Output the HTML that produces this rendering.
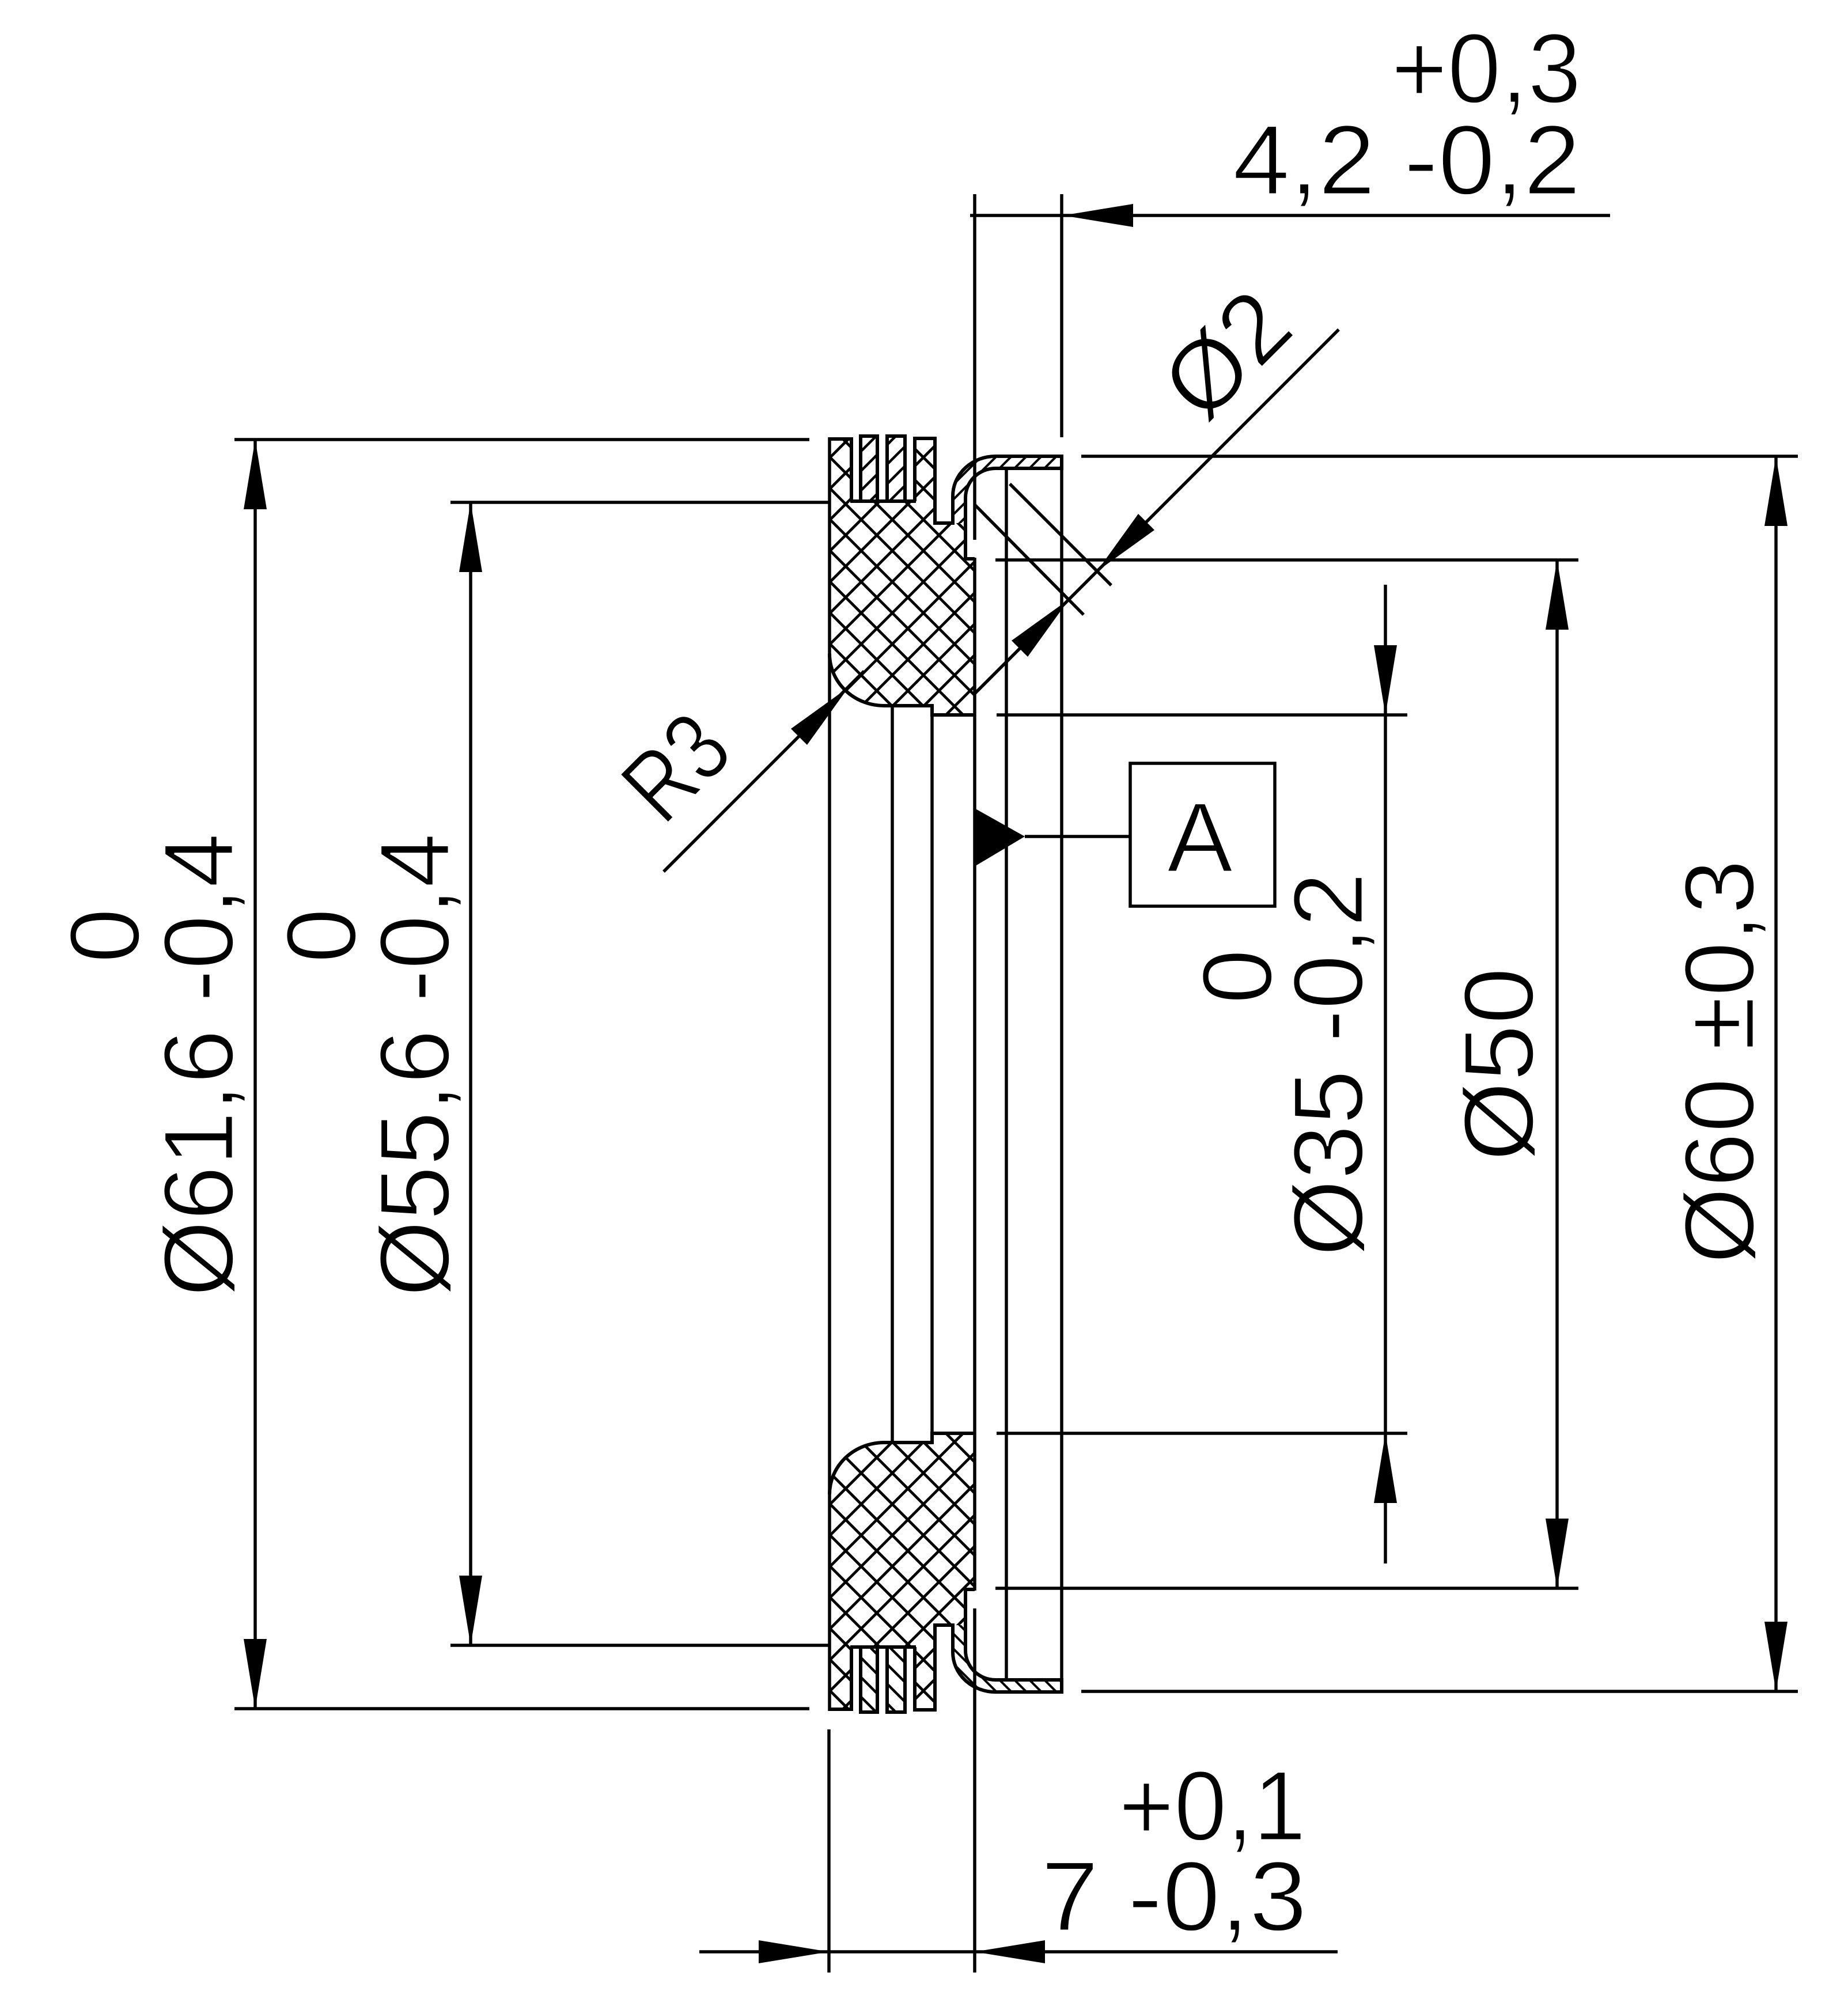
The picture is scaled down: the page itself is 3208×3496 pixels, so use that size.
<!DOCTYPE html>
<html>
<head>
<meta charset="utf-8">
<style>
html,body{margin:0;padding:0;background:#fff;}
svg{display:block;}
</style>
</head>
<body>
<svg xmlns="http://www.w3.org/2000/svg" width="3208" height="3496" viewBox="0 0 3208 3496">
<defs>
  <pattern id="xh" patternUnits="userSpaceOnUse" x="10" y="11" width="54" height="54">
    <path d="M-10,-10 L64,64 M-10,44 L64,118 M-10,-64 L64,10 M-10,64 L64,-10 M-10,10 L10,-10 M44,64 L64,44" stroke="#000" stroke-width="4.8" fill="none"/>
  </pattern>
  <pattern id="sh" patternUnits="userSpaceOnUse" x="0" y="0" width="34" height="34">
    <path d="M-10,44 L44,-10 M-10,10 L10,-10 M24,44 L44,24" stroke="#000" stroke-width="4.5" fill="none"/>
  </pattern>
  <pattern id="sh2" patternUnits="userSpaceOnUse" x="0" y="0" width="26" height="26">
    <path d="M-10,36 L36,-10 M-10,10 L10,-10 M16,36 L36,16" stroke="#000" stroke-width="4" fill="none"/>
  </pattern>
  <g id="seal">
    <path d="M1440,762 L1478,762 L1478,870 L1588,870 L1588,761 L1623,761 L1623,908 L1676,908 L1676,970 L1692,970 L1692,1241 L1618,1241 L1618,1225 L1535,1225 A95,90 0 0 1 1440,1135 Z" fill="url(#xh)"/>
    <rect x="1494" y="757" width="29" height="113" fill="url(#sh)"/>
    <rect x="1540" y="757" width="31" height="113" fill="url(#sh)"/>
    <path d="M1654,908 L1654,861 A74,69 0 0 1 1728,792 L1843,792 L1843,813 L1728,813 A52,51 0 0 0 1676,864 L1676,908 Z" fill="url(#sh2)"/>
    <path d="M1440,762 L1478,762 L1478,870 M1494,870 L1494,757 L1523,757 L1523,870 M1540,870 L1540,757 L1571,757 L1571,870 M1588,870 L1588,761 L1623,761 L1623,908 L1654,908 L1654,861 A74,69 0 0 1 1728,792 L1843,792 L1843,813 L1728,813 A52,51 0 0 0 1676,864 L1676,970 L1692,970 M1476,870 L1590,870 M1692,1241 L1618,1241 L1618,1225 L1535,1225 A95,90 0 0 1 1440,1135" fill="none" stroke="#000" stroke-width="6"/>
  </g>
</defs>

<rect x="0" y="0" width="3208" height="3496" fill="#fff"/>

<use href="#seal"/>
<use href="#seal" transform="matrix(1 0 0 -1 0 3729)"/>

<g stroke="#000" stroke-width="5.5" fill="none" stroke-linecap="butt">
  <!-- main long verticals -->
  <line x1="1440" y1="759" x2="1440" y2="2970"/>
  <line x1="1549" y1="1225" x2="1549" y2="2504"/>
  <line x1="1618" y1="1225" x2="1618" y2="2504"/>
  <line x1="1692" y1="968" x2="1692" y2="2761"/>
  <line x1="1692" y1="337" x2="1692" y2="937"/>
  <line x1="1692" y1="2792" x2="1692" y2="3424"/>
  <line x1="1747" y1="813" x2="1747" y2="2916"/>
  <line x1="1843" y1="789" x2="1843" y2="2940"/>
  <line x1="1843" y1="337" x2="1843" y2="759"/>

  <!-- 61,6 -->
  <line x1="407" y1="763" x2="1405" y2="763"/>
  <line x1="407" y1="2966" x2="1405" y2="2966"/>
  <line x1="443" y1="763" x2="443" y2="2966"/>
  <!-- 55,6 -->
  <line x1="782" y1="872" x2="1440" y2="872"/>
  <line x1="782" y1="2856" x2="1440" y2="2856"/>
  <line x1="817" y1="872" x2="817" y2="2856"/>
  <!-- 60 -->
  <line x1="1877" y1="792" x2="3121" y2="792"/>
  <line x1="1877" y1="2936" x2="3121" y2="2936"/>
  <line x1="3083" y1="792" x2="3083" y2="2936"/>
  <!-- 50 -->
  <line x1="1728" y1="972" x2="2740" y2="972"/>
  <line x1="1728" y1="2757" x2="2740" y2="2757"/>
  <line x1="2703" y1="972" x2="2703" y2="2757"/>
  <!-- 35 -->
  <line x1="1730" y1="1241" x2="2443" y2="1241"/>
  <line x1="1730" y1="2488" x2="2443" y2="2488"/>
  <line x1="2405" y1="1015" x2="2405" y2="2714"/>
  <!-- 4,2 -->
  <line x1="1684" y1="374" x2="2795" y2="374"/>
  <!-- 7 -->
  <line x1="1214" y1="3388" x2="2322" y2="3388"/>
  <line x1="1439" y1="3002" x2="1439" y2="3424"/>
  <!-- phi 2 -->
  <line x1="2324" y1="572" x2="1692" y2="1204"/>
  <line x1="1753" y1="840" x2="1929" y2="1016"/>
  <line x1="1692" y1="876" x2="1881" y2="1067"/>
  <!-- R3 -->
  <line x1="1152" y1="1513" x2="1500" y2="1165"/>
  <!-- datum -->
  <line x1="1779" y1="1452" x2="1962" y2="1452"/>
  <rect x="1962" y="1325" width="251" height="248"/>
</g>

<g fill="#000" stroke="none">
  <!-- datum triangle -->
  <polygon points="1690,1402 1690,1505 1779,1452"/>
  <!-- arrows -->
  <polygon points="1845,374 1967,354 1967,394"/>
  <polygon points="1439,3388 1317,3368 1317,3408"/>
  <polygon points="1692,3388 1814,3368 1814,3408"/>
  <polygon points="443,763 423,884 463,884"/>
  <polygon points="443,2966 423,2845 463,2845"/>
  <polygon points="817,872 797,993 837,993"/>
  <polygon points="817,2856 797,2735 837,2735"/>
  <polygon points="3083,792 3063,913 3103,913"/>
  <polygon points="3083,2936 3063,2815 3103,2815"/>
  <polygon points="2703,972 2683,1093 2723,1093"/>
  <polygon points="2703,2757 2683,2636 2723,2636"/>
  <polygon points="2405,1241 2385,1120 2425,1120"/>
  <polygon points="2405,2488 2385,2609 2425,2609"/>
  <polygon points="1904,992 2004,920 1976,892"/>
  <polygon points="1856,1040 1784,1140 1756,1112"/>
  <polygon points="1473,1193 1401,1293 1373,1265"/>
</g>

<g font-family="'Liberation Sans', 'DejaVu Sans', sans-serif" font-size="172" fill="#000" stroke="#fff" stroke-width="3">
  <!-- top 4,2 -->
  <text x="2415" y="178" textLength="330" lengthAdjust="spacingAndGlyphs">+0,3</text>
  <text x="2140" y="337" textLength="604" lengthAdjust="spacingAndGlyphs">4,2 -0,2</text>
  <!-- bottom 7 -->
  <text x="1942" y="3194" textLength="325" lengthAdjust="spacingAndGlyphs">+0,1</text>
  <text x="1807" y="3351" textLength="462" lengthAdjust="spacingAndGlyphs">7 -0,3</text>
  <!-- Phi 2 -->
  <text transform="translate(2090,738) rotate(-45)">Ø2</text>
  <!-- R3 -->
  <text transform="translate(1152,1436) rotate(-45)" textLength="178" lengthAdjust="spacingAndGlyphs">R3</text>
  <!-- left 61,6 -->
  <text transform="translate(241,1672) rotate(-90)">0</text>
  <text transform="translate(404,2251) rotate(-90)" textLength="805" lengthAdjust="spacingAndGlyphs">Ø61,6 -0,4</text>
  <!-- left 55,6 -->
  <text transform="translate(617,1672) rotate(-90)">0</text>
  <text transform="translate(779,2251) rotate(-90)" textLength="805" lengthAdjust="spacingAndGlyphs">Ø55,6 -0,4</text>
  <!-- right 35 -->
  <text transform="translate(2207,1743) rotate(-90)">0</text>
  <text transform="translate(2365,2181) rotate(-90)" textLength="667" lengthAdjust="spacingAndGlyphs">Ø35 -0,2</text>
  <!-- 50 -->
  <text transform="translate(2661,2016) rotate(-90)" textLength="337" lengthAdjust="spacingAndGlyphs">Ø50</text>
  <!-- 60 -->
  <text transform="translate(3044,2194) rotate(-90)" textLength="702" lengthAdjust="spacingAndGlyphs">Ø60 ±0,3</text>
  <!-- datum A -->
  <text x="2083" y="1513" text-anchor="middle">A</text>
</g>
</svg>
</body>
</html>
